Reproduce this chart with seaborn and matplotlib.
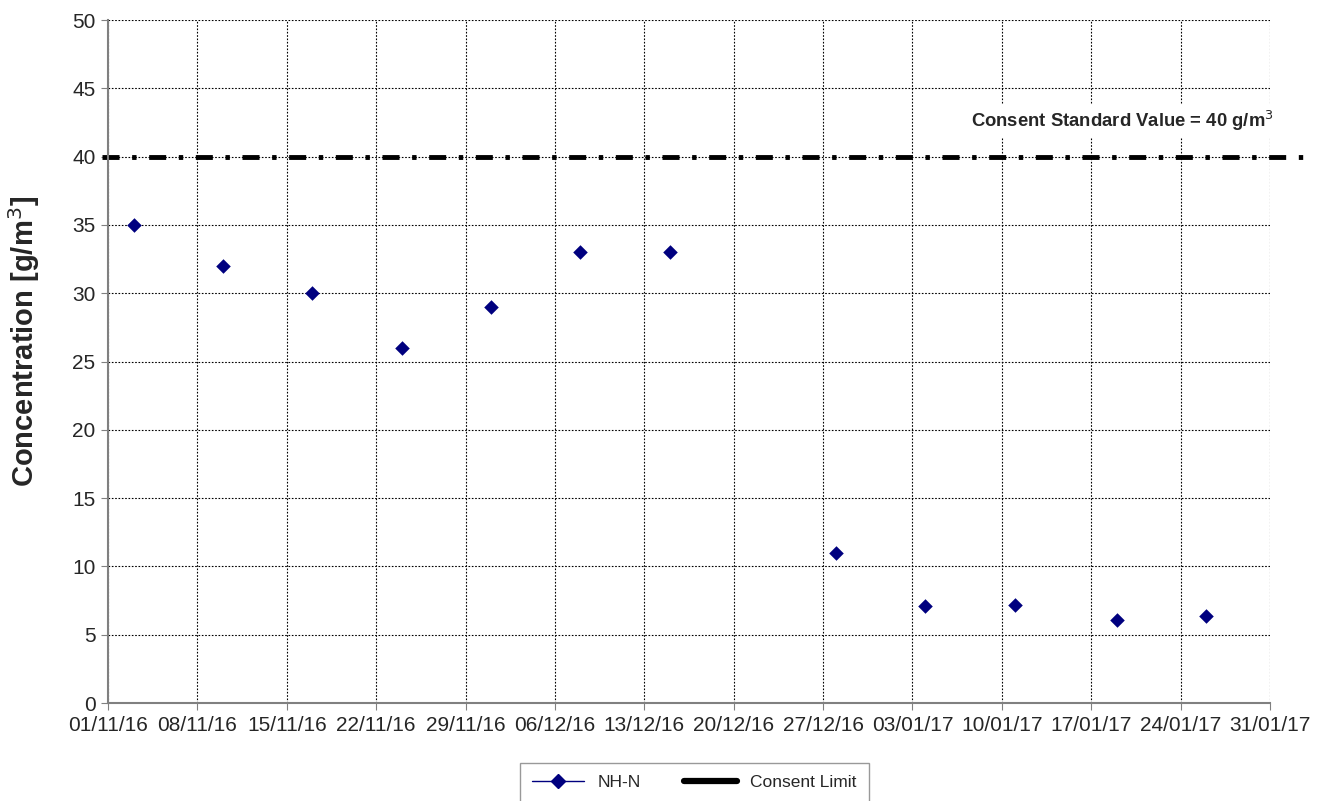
import pandas as pd
import matplotlib
matplotlib.use('Agg')
import matplotlib.pyplot as plt
import matplotlib.dates as mdates
from matplotlib.lines import Line2D
import seaborn as sns

# Sample data
dates = ['2016-11-03', '2016-11-10', '2016-11-17', '2016-11-24', '2016-12-01',
         '2016-12-08', '2016-12-15', '2016-12-28', '2017-01-04', '2017-01-11',
         '2017-01-19', '2017-01-26']
nh_n = [35, 32, 30, 26, 29, 33, 33, 11, 7.1, 7.2, 6.1, 6.4]
consent_limit = 40

data = pd.DataFrame({'date': pd.to_datetime(dates), 'NH-N': nh_n})

sns.set_style('white')
plt.rcParams['font.family'] = ['Liberation Sans', 'DejaVu Sans']

fig = plt.figure(figsize=(13.25, 8.01), dpi=100)
ax = fig.add_axes([0.0815, 0.1223, 0.877, 0.8527])

sns.scatterplot(data=data, x='date', y='NH-N', marker='D', s=55,
                color='#00007f', edgecolor='#00007f', linewidth=0, ax=ax,
                zorder=3)

# Consent limit line, running a little past the axes
ax.axhline(consent_limit, xmin=-0.005, xmax=1.028, color='black', lw=3.5,
           dashes=(3.5, 2.6, 0.9, 2.6), clip_on=False, zorder=2)
ax.text(1.003, 42.6 / 50, 'Consent Standard Value = 40 g/m$^3$',
        transform=ax.transAxes, ha='right', va='center', fontsize=13.3,
        fontweight='bold', zorder=4,
        bbox=dict(facecolor='white', edgecolor='none', pad=3))

ax.set_xlim(pd.Timestamp('2016-11-01'), pd.Timestamp('2017-01-31'))
ax.set_ylim(0, 50)
ax.set_yticks(range(0, 51, 5))
ax.set_xticks(pd.date_range('2016-11-01', '2017-01-31', freq='7D'))
ax.xaxis.set_major_formatter(mdates.DateFormatter('%d/%m/%y'))

ax.grid(True, color='black', linestyle=(0, (1.5, 1.5)), linewidth=0.8)
for side in ['top', 'right']:
    ax.spines[side].set_visible(False)
for side in ['left', 'bottom']:
    ax.spines[side].set_color('#808080')
    ax.spines[side].set_linewidth(1.5)
ax.tick_params(axis='both', labelsize=15, length=5, color='#808080',
               direction='out', left=True, bottom=True, pad=4)

ax.set_xlabel('')
ax.set_ylabel('Concentration [g/m$^3$]', fontsize=21, fontweight='bold',
              labelpad=22)
ax.yaxis.label.set_y(0.53)

handles = [
    Line2D([], [], color='#00007f', marker='D', markersize=7, lw=1),
    Line2D([], [], color='black', lw=4.5),
]
leg = fig.legend(handles, ['NH-N', 'Consent Limit'], loc='upper center',
                 bbox_to_anchor=(0.524, 0.048), ncol=2, fontsize=12.5,
                 frameon=True, fancybox=False, edgecolor='#808080',
                 borderpad=0.7, columnspacing=2.5, handlelength=3,
                 borderaxespad=0)

fig.savefig('out.png', dpi=100)
